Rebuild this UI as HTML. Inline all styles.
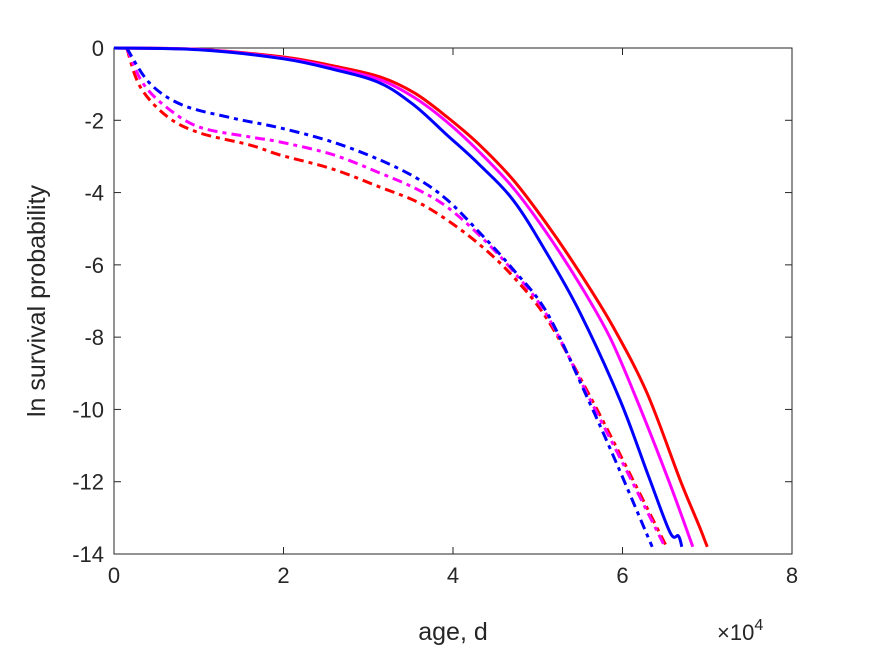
<!DOCTYPE html>
<html><head><meta charset="utf-8"><style>
body{margin:0;background:#fff;}
svg text{font-family:"Liberation Sans",sans-serif;fill:#262626;}
</style></head><body>
<svg id="chart" width="875" height="656" xmlns="http://www.w3.org/2000/svg">
<rect width="875" height="656" fill="#fff"/>
<g id="axes"></g>
<g id="series"></g>
</svg>
<script>
const xTicks=[0,2,4,6,8];
const yTicks=[0,-2,-4,-6,-8,-10,-12,-14];
const redSolid=[[0,0],[1,-0.04],[2,-0.25],[2.6,-0.5],[3.14,-0.8],[3.55,-1.25],[3.93,-1.91],[4.3,-2.65],[4.71,-3.65],[5.1,-4.85],[5.5,-6.23],[5.89,-7.72],[6.29,-9.55],[6.68,-11.95],[6.9,-13.2],[7.0,-13.8]];
const magentaSolid=[[0,0],[1,-0.04],[2,-0.28],[2.6,-0.55],[3.14,-0.88],[3.55,-1.38],[3.93,-2.05],[4.3,-2.85],[4.71,-3.87],[5.1,-5.1],[5.5,-6.55],[5.85,-8.0],[6.17,-9.74],[6.55,-12.0],[6.83,-13.8]];
const blueSolid=[[0,0],[1,-0.05],[2,-0.3],[2.6,-0.6],[3.14,-0.97],[3.55,-1.6],[3.93,-2.41],[4.3,-3.2],[4.71,-4.21],[5.1,-5.65],[5.5,-7.33],[5.97,-9.74],[6.3,-11.8],[6.56,-13.4],[6.66,-13.5],[6.70,-13.8]];
const blueDash=[[0.15,0],[0.42,-0.97],[0.81,-1.58],[1.4,-1.94],[1.96,-2.21],[2.58,-2.6],[3.14,-3.1],[3.57,-3.6],[3.93,-4.2],[4.32,-5.12],[4.7,-6.1],[5.11,-7.33],[5.58,-9.65],[5.95,-11.6],[6.35,-13.8]];
const magentaDash=[[0.15,0],[0.34,-0.97],[0.63,-1.66],[1.01,-2.19],[1.6,-2.46],[1.96,-2.6],[2.58,-2.95],[3.14,-3.46],[3.57,-3.9],[3.93,-4.4],[4.32,-5.2],[4.7,-6.15],[5.11,-7.4],[5.6,-9.65],[6.05,-11.7],[6.5,-13.8]];
const redDash=[[0.15,0],[0.31,-1.08],[0.63,-1.9],[1.01,-2.35],[1.6,-2.68],[1.96,-2.96],[2.58,-3.35],[3.14,-3.85],[3.57,-4.25],[3.93,-4.76],[4.32,-5.45],[4.7,-6.3],[5.11,-7.5],[5.62,-9.65],[6.07,-11.7],[6.52,-13.8]];
const L=114,R=792,T=48,B=554;
const xs=v=>L+(v/8)*(R-L);
const ys=v=>T+(-v/14)*(B-T);
const NS="http://www.w3.org/2000/svg";
const axes=document.getElementById('axes'),ser=document.getElementById('series');
function mk(tag,attrs,parent){const e=document.createElementNS(NS,tag);for(const k in attrs)e.setAttribute(k,attrs[k]);parent.appendChild(e);return e;}
const box=mk('rect',{x:L,y:T,width:R-L,height:B-T,fill:'none',stroke:'#262626','stroke-width':1},axes);


xTicks.forEach(t=>{
  const x=xs(t);
  const l1=mk('line',{x1:x,x2:x,y1:B,y2:B-7,stroke:'#262626'},axes);
  
  
  mk('line',{x1:x,x2:x,y1:T,y2:T+7,stroke:'#262626'},axes);
  const tx=mk('text',{x:x,y:B+29,'text-anchor':'middle','font-size':22},axes);
  tx.textContent=t;
  
  
});
yTicks.forEach(t=>{
  const y=ys(t);
  const l1=mk('line',{x1:L,x2:L+7,y1:y,y2:y,stroke:'#262626'},axes);
  
  
  mk('line',{x1:R,x2:R-7,y1:y,y2:y,stroke:'#262626'},axes);
  const tx=mk('text',{x:L-10,y:y+8,'text-anchor':'end','font-size':22},axes);
  tx.textContent=t===0?'0':'-'+Math.abs(t);
  
  
});
const xl=mk('text',{x:453,y:640,'text-anchor':'middle','font-size':25},axes);
xl.textContent='age, d';


const ex=mk('text',{x:717,y:640,'font-size':22},axes);
ex.innerHTML='×10<tspan dy="-10" font-size="16">4</tspan>';


const yl=mk('text',{x:0,y:0,'text-anchor':'middle','font-size':25,transform:'translate(45,301) rotate(-90)'},axes);
yl.textContent='ln survival probability';


function smooth(pts){
  let d='M'+pts[0][0].toFixed(1)+','+pts[0][1].toFixed(1);
  for(let i=0;i<pts.length-1;i++){
    const p0=pts[i-1]||pts[i],p1=pts[i],p2=pts[i+1],p3=pts[i+2]||p2;
    const c1=[p1[0]+(p2[0]-p0[0])/6,p1[1]+(p2[1]-p0[1])/6];
    const c2=[p2[0]-(p3[0]-p1[0])/6,p2[1]-(p3[1]-p1[1])/6];
    d+=' C'+c1.map(v=>v.toFixed(1)).join(',')+' '+c2.map(v=>v.toFixed(1)).join(',')+' '+p2.map(v=>v.toFixed(1)).join(',');
  }
  return d;
}
function draw(data,color,dash,name){
  const pts=data.map(p=>[xs(p[0]),ys(p[1])]);
  const p=mk('path',{d:smooth(pts),fill:'none',stroke:color,'stroke-width':3,'stroke-linejoin':'round'},ser);
  if(dash)p.setAttribute('stroke-dasharray','10,5,4,5');
  
  
}
draw(redDash,'#ff0000',true,'red-dashed-line');
draw(magentaDash,'#ff00ff',true,'magenta-dashed-line');
draw(blueDash,'#0000ff',true,'blue-dashed-line');
draw(redSolid,'#ff0000',false,'red-solid-line');
draw(magentaSolid,'#ff00ff',false,'magenta-solid-line');
draw(blueSolid,'#0000ff',false,'blue-solid-line');
</script>
</body></html>
